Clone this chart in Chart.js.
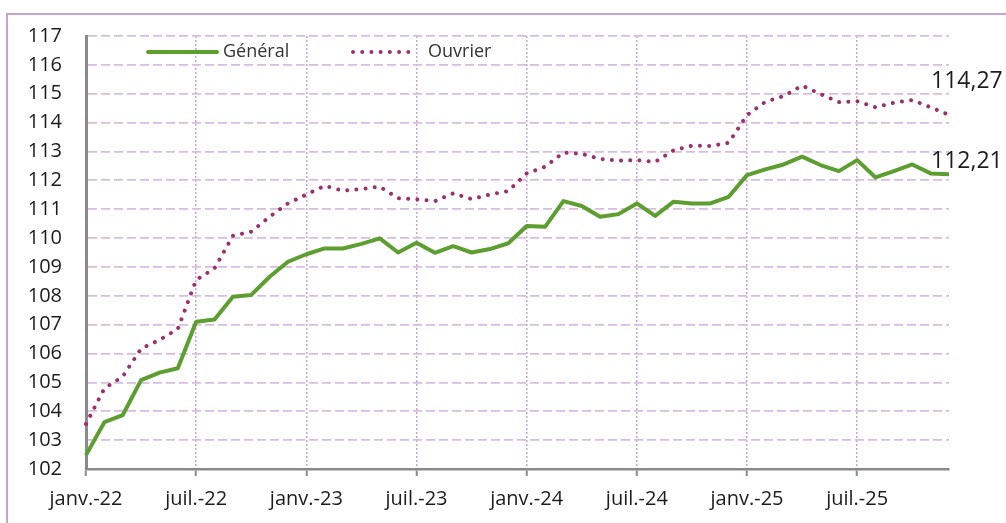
<!DOCTYPE html>
<html lang="fr">

<head>
    <meta charset="UTF-8">
    <title>Général / Ouvrier</title>
    <script src="https://cdn.jsdelivr.net/npm/chart.js"></script>
    <style>
        html,
        body {
            margin: 0;
            padding: 0;
            background-color: #ffffff;
        }

        #chart-container {
            width: 1006px;
            height: 523px;
        }
    </style>
</head>

<body>

    <div id="chart-container">
        <canvas id="indices" width="1006" height="523"></canvas>
    </div>

    <script>
        const monthNames = ['janv.', 'févr.', 'mars', 'avr.', 'mai', 'juin', 'juil.', 'août', 'sept.', 'oct.', 'nov.', 'déc.'];
        const years = ['22', '23', '24', '25'];
        const months = [];
        for (const y of years) {
            for (const m of monthNames) months.push(m + '-' + y);
        }

        const general = [102.48, 103.62, 103.87, 105.08, 105.34, 105.49, 107.10, 107.18, 107.97, 108.03, 108.66, 109.18,
            109.44, 109.64, 109.64, 109.80, 109.99, 109.50, 109.84, 109.49, 109.72, 109.50, 109.62, 109.82,
            110.42, 110.39, 111.28, 111.11, 110.74, 110.83, 111.20, 110.77, 111.26, 111.20, 111.20, 111.43,
            112.18, 112.38, 112.55, 112.82, 112.53, 112.32, 112.70, 112.10, 112.32, 112.55, 112.24, 112.21];

        const ouvrier = [103.56, 104.79, 105.20, 106.17, 106.47, 106.85, 108.55, 108.95, 110.08, 110.22, 110.74, 111.20,
            111.51, 111.81, 111.64, 111.70, 111.78, 111.38, 111.34, 111.28, 111.55, 111.35, 111.51, 111.63,
            112.24, 112.47, 112.96, 112.92, 112.74, 112.68, 112.70, 112.64, 113.04, 113.20, 113.19, 113.30,
            114.26, 114.72, 114.92, 115.28, 114.99, 114.71, 114.74, 114.53, 114.69, 114.78, 114.53, 114.27];

        const lastLabels = ['112,21', '114,27'];

        const GREEN = '#5d9e31';
        const PLUM = '#9c2f6e';
        const GRID = '#d9bde0';
        const AXIS = '#8a8a8a';
        const FONT = "'Open Sans', sans-serif";

        // frame, legend inside the plot, and the values at the end of each line
        const decorations = {
            id: 'decorations',
            beforeDraw(chart) {
                const ctx = chart.ctx;
                ctx.save();
                ctx.fillStyle = '#fff';
                ctx.fillRect(0, 0, chart.width, chart.height);
                ctx.strokeStyle = '#c8a2d2';
                ctx.lineWidth = 2;
                ctx.strokeRect(7, 14, chart.width + 20, chart.height + 20);
                ctx.restore();
            },
            afterDraw(chart) {
                const ctx = chart.ctx;
                ctx.save();

                // legend
                ctx.font = '18px ' + FONT;
                ctx.fillStyle = '#333';
                ctx.textBaseline = 'middle';
                ctx.lineCap = 'round';

                ctx.strokeStyle = GREEN;
                ctx.lineWidth = 4;
                ctx.beginPath();
                ctx.moveTo(148, 52);
                ctx.lineTo(217, 52);
                ctx.stroke();
                ctx.fillText(chart.data.datasets[0].label, 223, 52);

                ctx.strokeStyle = PLUM;
                ctx.lineWidth = 4;
                ctx.setLineDash([0.01, 9.2]);
                ctx.beginPath();
                ctx.moveTo(353, 52);
                ctx.lineTo(414, 52);
                ctx.stroke();
                ctx.setLineDash([]);
                ctx.fillText(chart.data.datasets[1].label, 428, 52);

                // end values
                const yScale = chart.scales.y;
                ctx.font = '23px ' + FONT;
                ctx.fillStyle = '#1c1c1c';
                ctx.textBaseline = 'alphabetic';
                ctx.fillText(lastLabels[0], 931, yScale.getPixelForValue(general[general.length - 1]) - 6);
                ctx.fillText(lastLabels[1], 931, yScale.getPixelForValue(ouvrier[ouvrier.length - 1]) - 27);

                ctx.restore();
            }
        };

        new Chart(document.getElementById('indices'), {
            type: 'line',
            data: {
                labels: months,
                datasets: [
                    {
                        label: 'Général',
                        data: general,
                        borderColor: GREEN,
                        borderWidth: 4,
                        pointRadius: 0,
                        tension: 0,
                        borderJoinStyle: 'round'
                    },
                    {
                        label: 'Ouvrier',
                        data: ouvrier,
                        borderColor: PLUM,
                        borderWidth: 4,
                        borderDash: [0.01, 9.2],
                        borderCapStyle: 'round',
                        pointRadius: 0,
                        tension: 0
                    }
                ]
            },
            options: {
                responsive: false,
                animation: false,
                layout: {
                    padding: { left: 0, right: 57, top: 36, bottom: 0 }
                },
                scales: {
                    x: {
                        type: 'category',
                        offset: false,
                        afterFit: (scale) => { scale.height = 54; },
                        ticks: {
                            autoSkip: false,
                            maxRotation: 0,
                            minRotation: 0,
                            padding: 11,
                            color: '#1c1c1c',
                            font: { family: FONT, size: 20 },
                            callback: (v, i) => (i % 6 === 0 ? months[i] : '')
                        },
                        grid: {
                            color: (c) => (c.index % 6 === 0 && c.index > 0 ? '#c9a3d3' : 'transparent'),
                            lineWidth: 1.5,
                            tickColor: (c) => (c.index % 6 === 0 ? AXIS : 'transparent'),
                            tickLength: 7,
                            tickWidth: 2
                        },
                        border: { display: true, color: AXIS, width: 2.5, dash: [2, 2] }
                    },
                    y: {
                        min: 102,
                        max: 117,
                        afterFit: (scale) => { scale.width = 86; },
                        ticks: {
                            stepSize: 1,
                            padding: 24,
                            color: '#1c1c1c',
                            font: { family: FONT, size: 20 }
                        },
                        grid: {
                            color: (c) => (c.tick && c.tick.value === 102 ? 'transparent' : GRID),
                            lineWidth: 1.8,
                            drawTicks: false
                        },
                        border: { display: true, color: AXIS, width: 3, dash: [9, 4] }
                    }
                },
                plugins: {
                    legend: { display: false },
                    tooltip: { enabled: false },
                    title: { display: false }
                }
            },
            plugins: [decorations]
        });
    </script>
</body>

</html>
